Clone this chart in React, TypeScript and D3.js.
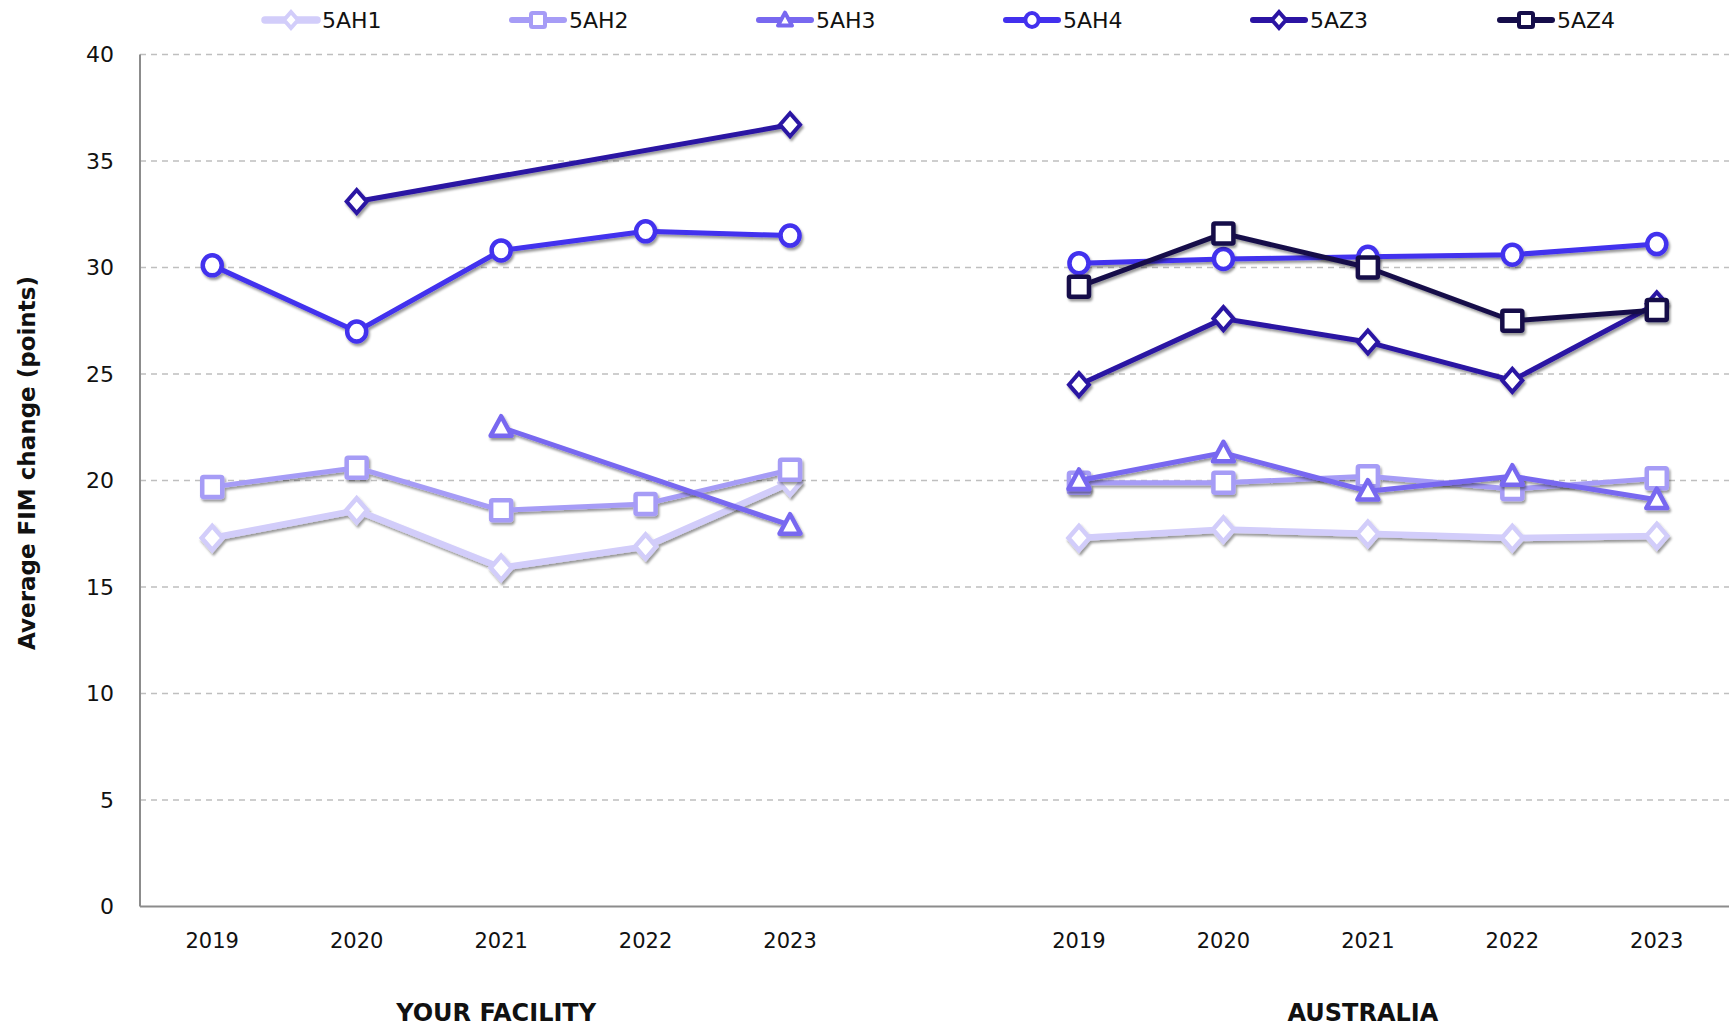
import React from "react";
import * as d3 from "d3";

const W = 1729;
const H = 1030;

const categories = ["2019", "2020", "2021", "2022", "2023", "", "2019", "2020", "2021", "2022", "2023"];
const groupLabels = ["YOUR FACILITY", "AUSTRALIA"];
const yTicks = [0, 5, 10, 15, 20, 25, 30, 35, 40];
const seriesNames = ["5AH1", "5AH2", "5AH3", "5AH4", "5AZ3", "5AZ4"];
const seriesColors = ["#D2CDFA", "#A69CF6", "#7868F0", "#4230EE", "#2B14A3", "#150D4A"];
const seriesMarkers = ["diamond", "square", "triangle", "circle", "diamond", "square"];

// values per series: [YOUR FACILITY 2019..2023], [AUSTRALIA 2019..2023]
const facility5AH1 = [17.3, 18.6, 15.9, 16.9, 19.9];
const facility5AH2 = [19.7, 20.6, 18.6, 18.9, 20.5];
const facility5AH3 = [null, null, 22.5, null, 17.9];
const facility5AH4 = [30.1, 27.0, 30.8, 31.7, 31.5];
const facility5AZ3 = [null, 33.1, null, null, 36.7];
const facility5AZ4 = [null, null, null, null, null];

const australia5AH1 = [17.3, 17.7, 17.5, 17.3, 17.4];
const australia5AH2 = [19.9, 19.9, 20.2, 19.6, 20.1];
const australia5AH3 = [20.0, 21.3, 19.5, 20.2, 19.1];
const australia5AH4 = [30.2, 30.4, 30.5, 30.6, 31.1];
const australia5AZ3 = [24.5, 27.6, 26.5, 24.7, 28.3];
const australia5AZ4 = [29.1, 31.6, 30.0, 27.5, 28.0];

const facilityData = [facility5AH1, facility5AH2, facility5AH3, facility5AH4, facility5AZ3, facility5AZ4];
const australiaData = [australia5AH1, australia5AH2, australia5AH3, australia5AH4, australia5AZ3, australia5AZ4];

const FONT = "'DejaVu Sans', Lato, sans-serif";

function Marker({ type, x, y, color, size, sw }: { type: string; x: number; y: number; color: string; size: number; sw: number }) {
  const s = size;
  if (type === "circle") {
    return <ellipse cx={x} cy={y} rx={s * 0.95} ry={s} fill="#fff" stroke={color} strokeWidth={sw} />;
  }
  if (type === "square") {
    return <rect x={x - s} y={y - s} width={2 * s} height={2 * s} rx={1.5} fill="#fff" stroke={color} strokeWidth={sw} />;
  }
  if (type === "triangle") {
    const p = `${x},${y - s * 1.05} ${x + s},${y + s * 0.8} ${x - s},${y + s * 0.8}`;
    return <polygon points={p} fill="#fff" stroke={color} strokeWidth={sw} strokeLinejoin="round" />;
  }
  const p = `${x},${y - s * 1.15} ${x + s},${y} ${x},${y + s * 1.15} ${x - s},${y}`;
  return <polygon points={p} fill="#fff" stroke={color} strokeWidth={sw} strokeLinejoin="miter" />;
}

export default function App() {
  const left = 140;
  const right = W;
  const top = 54.5;
  const bottom = 906.5;

  const x = d3.scaleBand<number>().domain(d3.range(categories.length)).range([left, right]).padding(0);
  const cx = (i: number) => (x(i) as number) + x.bandwidth() / 2;
  const y = d3.scaleLinear().domain([0, 40]).range([bottom, top]);

  const lineGen = d3
    .line<{ i: number; v: number }>()
    .x((d) => cx(d.i))
    .y((d) => y(d.v));

  const lineWidths = [6.5, 5, 5, 5, 5, 5];
  const markerSizes = [10.5, 10, 10.5, 10, 10, 10];
  const markerSW = [4.5, 4.5, 4.5, 4.5, 4, 4.5];

  const groups = [
    { data: facilityData, offset: 0 },
    { data: australiaData, offset: 6 },
  ];

  const legendStart = 265;
  const legendStep = 247;

  return (
    <svg width={W} height={H} style={{ position: "absolute", left: 0, top: 0, background: "#fff" }}>
      <defs>
        <filter id="shadow" x="-10%" y="-10%" width="120%" height="130%">
          <feDropShadow dx="1.5" dy="2.5" stdDeviation="1.2" floodColor="#000" floodOpacity="0.4" />
        </filter>
      </defs>

      {/* gridlines */}
      {yTicks.filter((t) => t > 0).map((t) => (
        <line key={t} x1={left} x2={right} y1={y(t)} y2={y(t)} stroke="#BFBFBF" strokeWidth={1.5} strokeDasharray="6,5" />
      ))}
      {/* axes */}
      <line x1={left} x2={left} y1={top} y2={bottom} stroke="#8C8C8C" strokeWidth={2} />
      <line x1={left} x2={right} y1={bottom} y2={bottom} stroke="#8C8C8C" strokeWidth={2} />

      {/* y tick labels */}
      {yTicks.map((t) => (
        <text key={t} x={114} y={y(t)} textAnchor="end" dominantBaseline="central" fontFamily={FONT} fontSize={22} fill="#111">
          {t}
        </text>
      ))}

      {/* y axis title */}
      <text
        transform={`translate(27,463) rotate(-90)`}
        textAnchor="middle"
        dominantBaseline="central"
        fontFamily={FONT}
        fontWeight="bold"
        fontSize={23}
        fill="#111"
      >
        Average FIM change (points)
      </text>

      {/* x labels */}
      {categories.map((c, i) => (
        <text key={i} x={cx(i)} y={941} textAnchor="middle" dominantBaseline="central" fontFamily={FONT} fontSize={21} fill="#111">
          {c}
        </text>
      ))}
      {groupLabels.map((g, gi) => (
        <text key={g} x={cx(2 + gi * 6) - 5} y={1013} textAnchor="middle" dominantBaseline="central" fontFamily={FONT} fontWeight="bold" fontSize={24} fill="#111">
          {g}
        </text>
      ))}

      {/* series */}
      {seriesNames.map((name, si) => (
        <g key={name} filter="url(#shadow)">
          {groups.map((g, gi) => {
            const pts = g.data[si]
              .map((v, k) => ({ i: k + g.offset, v: v as number }))
              .filter((d) => d.v !== null && d.v !== undefined);
            return (
              <g key={gi}>
                {pts.length > 1 && (
                  <path d={lineGen(pts) || ""} fill="none" stroke={seriesColors[si]} strokeWidth={lineWidths[si]} strokeLinejoin="round" />
                )}
                {pts.map((d) => (
                  <Marker key={d.i} type={seriesMarkers[si]} x={cx(d.i)} y={y(d.v)} color={seriesColors[si]} size={markerSizes[si]} sw={markerSW[si]} />
                ))}
              </g>
            );
          })}
        </g>
      ))}

      {/* legend */}
      {seriesNames.map((name, si) => {
        const lx = legendStart + si * legendStep;
        const ly = 20;
        return (
          <g key={name}>
            <line x1={lx} x2={lx + 52} y1={ly} y2={ly} stroke={seriesColors[si]} strokeWidth={lineWidths[si] + 1} strokeLinecap="round" />
            <Marker type={seriesMarkers[si]} x={lx + 26} y={ly} color={seriesColors[si]} size={7} sw={4} />
            <text x={lx + 57} y={ly} dominantBaseline="central" fontFamily={FONT} fontSize={22} fill="#111">
              {name}
            </text>
          </g>
        );
      })}
    </svg>
  );
}
